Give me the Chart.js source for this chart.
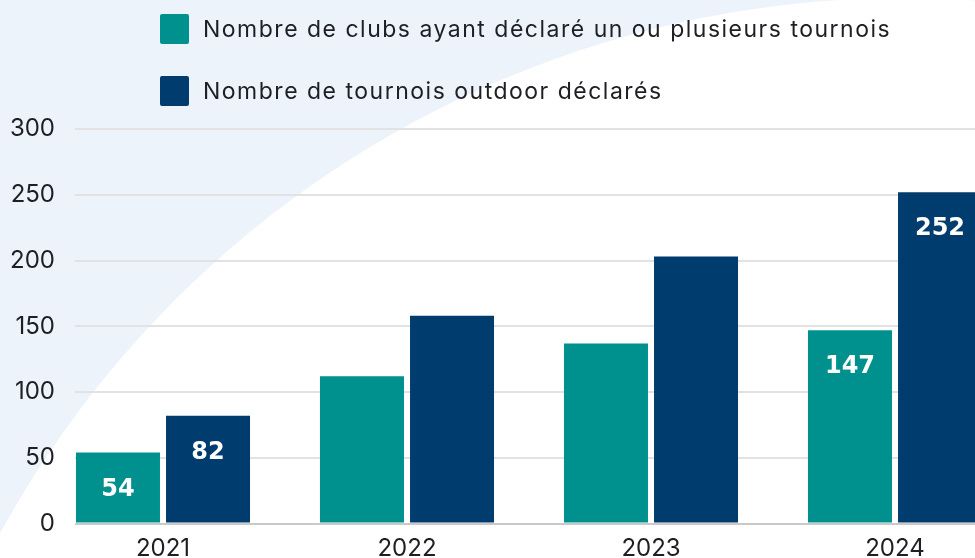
<!DOCTYPE html>
<html lang="fr">
<head>
<meta charset="utf-8">
<script src="https://cdn.jsdelivr.net/npm/chart.js@4/dist/chart.umd.min.js"></script>
<style>
    body { margin: 0; background: #ffffff; }
    .wrap { position: relative; width: 975px; height: 558px; overflow: hidden; }
    #legende { position: absolute; left: 160px; top: 14px; font-family: Inter, sans-serif; font-size: 23px; letter-spacing: 1.5px; color: #1d1f24; }
    .item-legende { display: flex; align-items: center; height: 30px; margin-bottom: 32px; }
    .carre { width: 29px; height: 30px; border-radius: 2px; margin-right: 14px; }
</style>
</head>
<body>
<div class="wrap">
    <canvas id="graphTournois" width="975" height="558"></canvas>
    <div id="legende"></div>
</div>
<script>
// Données
const annees = [2021, 2022, 2023, 2024];
const clubsDeclarants = [54, 112, 137, 147];
const tournoisOutdoor = [82, 158, 203, 252];
const ticksY = [0, 50, 100, 150, 200, 250, 300];

// Étiquettes affichées seulement sur certaines barres
const etiquettesClubs = [true, false, false, true];
const etiquettesTournois = [true, false, false, true];

const couleurClubs = '#00918e';
const couleurTournois = '#003d6e';

// Fond : zone bleu clair avec un grand arc blanc
const fondArc = {
    id: 'fondArc',
    beforeDraw(chart) {
        const ctx = chart.ctx;
        ctx.save();
        ctx.fillStyle = '#edf3fb';
        ctx.fillRect(0, 0, chart.width, chart.height);
        ctx.beginPath();
        ctx.arc(904, 1029, 1031, 0, Math.PI * 2);
        ctx.fillStyle = '#ffffff';
        ctx.fill();
        ctx.restore();
    }
};

// Valeurs en blanc dans les barres
const valeursBarres = {
    id: 'valeursBarres',
    afterDatasetsDraw(chart) {
        const ctx = chart.ctx;
        const affichage = [etiquettesClubs, etiquettesTournois];
        ctx.save();
        ctx.font = 'bold 24px "DejaVu Sans"';
        ctx.fillStyle = '#ffffff';
        ctx.textAlign = 'center';
        ctx.textBaseline = 'middle';
        chart.data.datasets.forEach((dataset, i) => {
            const meta = chart.getDatasetMeta(i);
            meta.data.forEach((barre, j) => {
                if (affichage[i][j]) {
                    ctx.fillText(dataset.data[j].y, barre.x, barre.y + 37);
                }
            });
        });
        ctx.restore();
    }
};

const ctx = document.getElementById('graphTournois').getContext('2d');

const graph = new Chart(ctx, {
    type: 'bar',
    data: {
        datasets: [{
            label: 'Nombre de clubs ayant déclaré un ou plusieurs tournois',
            data: annees.map((a, i) => ({ x: a, y: clubsDeclarants[i] })),
            backgroundColor: couleurClubs
        }, {
            label: 'Nombre de tournois outdoor déclarés',
            data: annees.map((a, i) => ({ x: a, y: tournoisOutdoor[i] })),
            backgroundColor: couleurTournois
        }]
    },
    options: {
        responsive: false,
        animation: false,
        categoryPercentage: 0.738,
        barPercentage: 0.933,
        layout: {
            padding: { top: 129, right: 0, bottom: -17, left: 0 }
        },
        scales: {
            x: {
                type: 'linear',
                offset: false,
                min: 2021 - 88 / 244,
                max: 2021 + 812 / 244,
                grid: { display: false, drawTicks: false },
                border: { display: false },
                ticks: {
                    stepSize: 1,
                    includeBounds: false,
                    padding: 11,
                    color: '#1d1f24',
                    font: { family: 'Inter', size: 24 },
                    callback: value => String(value)
                }
            },
            y: {
                min: 0,
                max: 300,
                afterFit(scale) { scale.width = 75; },
                afterBuildTicks(scale) { scale.ticks = ticksY.map(v => ({ value: v })); },
                grid: {
                    drawTicks: false,
                    lineWidth: 2,
                    color: c => (c.tick && c.tick.value === 0) ? '#c9c9c9' : '#e2e2e2'
                },
                border: { display: false },
                ticks: {
                    padding: 20,
                    color: '#1d1f24',
                    font: { family: 'Inter', size: 24 }
                }
            }
        },
        plugins: {
            legend: { display: false },
            tooltip: { enabled: false }
        }
    },
    plugins: [fondArc, valeursBarres]
});

// Légende HTML construite depuis les jeux de données
const legende = document.getElementById('legende');
graph.data.datasets.forEach(ds => {
    const item = document.createElement('div');
    item.className = 'item-legende';
    item.innerHTML = `<span class="carre" style="background:${ds.backgroundColor}"></span><span>${ds.label}</span>`;
    legende.appendChild(item);
});
</script>
</body>
</html>
